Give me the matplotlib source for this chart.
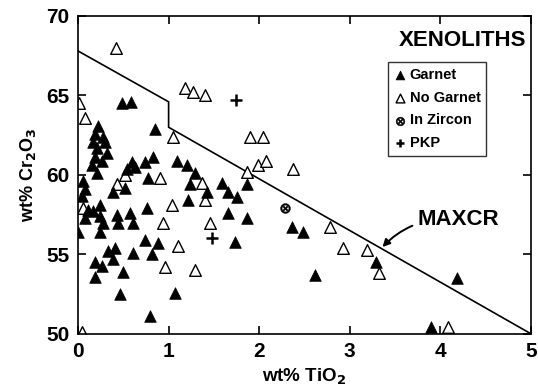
import numpy as np
import matplotlib
matplotlib.use("Agg")
import matplotlib.pyplot as plt

plt.rcParams['font.family'] = ['Liberation Sans', 'DejaVu Sans']
plt.rcParams['font.weight'] = 'bold'
plt.rcParams['mathtext.default'] = 'bf'

# garnet-bearing inclusions
garnet_ti = [0.49, 0.58, 0.85, 0.22, 0.19, 0.28, 0.17, 0.30, 0.21, 0.32,
             0.19, 0.26, 0.15, 0.21, 0.06, 0.08, 0.04, 0.24, 0.17, 0.39,
             0.52, 0.43, 0.57, 0.76, 0.60, 0.54, 0.63, 0.74, 0.83, 0.77,
             1.09, 1.20, 1.29, 1.24, 1.21, 0.11, 0.08, 0.24, 0.28, 0.24,
             0.44, 0.61, 0.00, 0.74, 0.88, 0.82, 0.61, 0.41, 0.33, 0.39,
             0.19, 0.26, 0.19, 0.50, 0.46, 1.07, 0.79, 1.42, 1.66, 1.75,
             1.66, 1.87, 1.73, 1.59, 1.87, 2.36, 2.48, 2.62, 3.29, 4.18,
             3.90]
garnet_cr = [64.5, 64.6, 62.9, 63.1, 62.6, 62.4, 62.1, 62.1, 61.7, 61.4,
             61.1, 60.9, 60.6, 60.1, 59.6, 59.1, 58.7, 58.1, 57.7, 58.9,
             59.2, 57.5, 57.6, 57.9, 60.8, 60.4, 60.5, 60.8, 61.1, 59.8,
             60.9, 60.6, 60.1, 59.4, 58.4, 57.8, 57.3, 57.4, 57.0, 56.4,
             57.0, 57.0, 56.4, 55.9, 55.7, 55.0, 55.1, 55.4, 55.2, 54.7,
             54.5, 54.3, 53.6, 53.9, 52.5, 52.6, 51.1, 58.9, 58.9, 58.6,
             57.6, 57.3, 55.8, 59.5, 59.4, 56.7, 56.4, 53.7, 54.5, 53.5,
             50.4]

# inclusions without garnet
nogt_ti = [0.42, 0.01, 0.08, 1.18, 1.27, 1.40, 1.05, 1.90, 2.04, 1.99,
           2.08, 2.37, 1.86, 0.43, 0.52, 0.91, 1.04, 1.37, 1.40, 0.94,
           1.46, 1.10, 0.96, 1.29, 0.04, 2.78, 2.92, 3.19, 3.32, 4.08,
           0.05]
nogt_cr = [68.0, 64.5, 63.6, 65.5, 65.2, 65.0, 62.4, 62.4, 62.4, 60.6,
           60.9, 60.4, 60.2, 59.4, 60.0, 59.8, 58.1, 59.5, 58.4, 57.0,
           57.0, 55.5, 54.2, 54.0, 50.1, 56.7, 55.4, 55.3, 53.8, 50.4,
           57.9]

zircon_ti = [2.28]
zircon_cr = [57.9]

pkp_ti = [1.74, 1.48]
pkp_cr = [64.7, 56.0]

# MAXCR limit
maxcr_ti = [0.0, 1.0, 1.0, 5.0]
maxcr_cr = [67.8, 64.6, 63.0, 50.0]

fig = plt.figure(figsize=(5.38, 3.9), dpi=100)
ax = fig.add_axes([0.145, 0.144, 0.842, 0.815])

ax.plot(maxcr_ti, maxcr_cr, color="black", lw=1.2, zorder=1)

ax.scatter(garnet_ti, garnet_cr, marker="^", s=70, facecolor="black",
           edgecolor="black", lw=0.5, label="Garnet", zorder=3)
ax.scatter(nogt_ti, nogt_cr, marker="^", s=70, facecolor="white",
           edgecolor="black", lw=1.0, label="No Garnet", zorder=2)
ax.scatter(zircon_ti, zircon_cr, marker=r"$\otimes$", s=50, color="black",
           lw=0.3, label="In Zircon", zorder=3)
ax.scatter(pkp_ti, pkp_cr, marker="+", s=80, color="black", lw=1.8,
           label="PKP", zorder=3)

ax.annotate("MAXCR", xy=(3.35, 55.4), xytext=(3.75, 57.2),
            fontsize=16, fontweight="bold", va="center",
            arrowprops=dict(arrowstyle="-|>", color="black", lw=1.4,
                            connectionstyle="arc3,rad=0.25",
                            shrinkA=2, shrinkB=1, mutation_scale=11))

ax.text(0.99, 0.955, "XENOLITHS", transform=ax.transAxes, ha="right",
        va="top", fontsize=16, fontweight="bold")

leg = ax.legend(loc="upper left", bbox_to_anchor=(0.684, 0.855),
                fontsize=10.5, frameon=True, fancybox=False,
                handletextpad=0.2, handlelength=0.9, borderpad=0.4,
                labelspacing=0.6, borderaxespad=0.0)
leg.get_frame().set_edgecolor("black")
leg.get_frame().set_linewidth(1.0)
for h in leg.legend_handles:
    h.set_sizes([40])

ax.set_xlim(0, 5)
ax.set_ylim(50, 70)
ax.set_xticks(np.arange(0, 6, 1))
ax.set_yticks(np.arange(50, 75, 5))
ax.tick_params(direction="in", length=6, width=1.2, top=True, right=True,
               labelsize=15, pad=6)
for lab in ax.get_xticklabels() + ax.get_yticklabels():
    lab.set_fontweight("bold")
for s in ax.spines.values():
    s.set_linewidth(1.2)

ax.set_xlabel("wt% TiO$_2$", fontsize=13.5, fontweight="bold", labelpad=4)
ax.set_ylabel("wt% Cr$_2$O$_3$", fontsize=13, fontweight="bold", labelpad=6)

fig.savefig("out.png", dpi=100)
